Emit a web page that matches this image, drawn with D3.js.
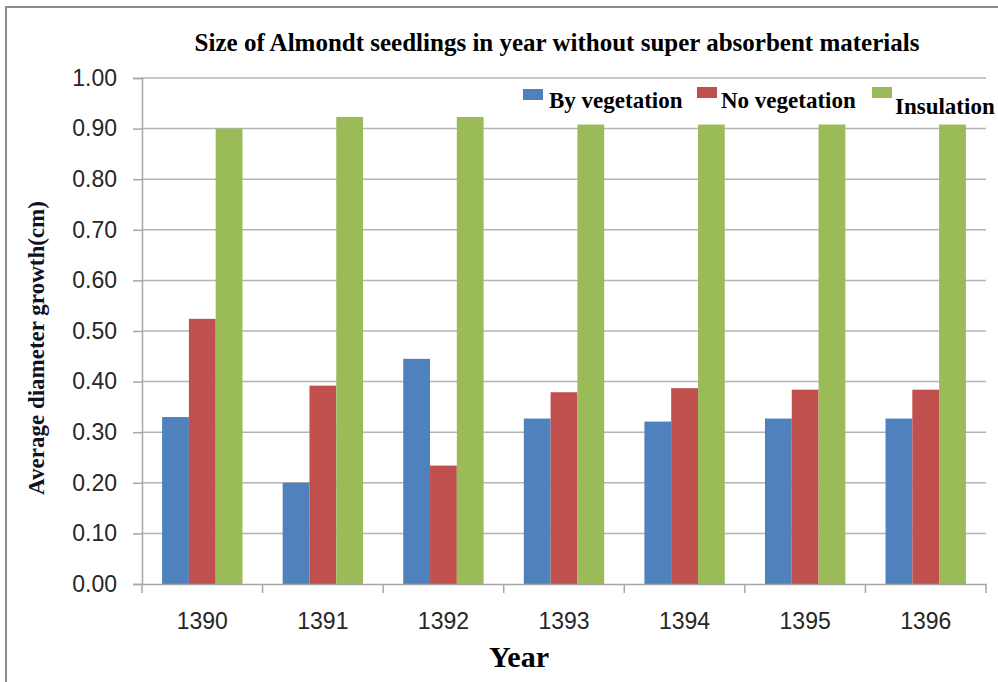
<html>
  <head>
    <title> Almond seedlings </title>
    <style>
      body { margin: 0; background: #fff; }
    </style>
  </head>
  <body>
  <script src="https://cdn.jsdelivr.net/npm/d3@7"></script>

    <script>
    var w = 998;
    var h = 682;

    // data
    var years = ['1390', '1391', '1392', '1393', '1394', '1395', '1396'];
    var seriesNames = ['By vegetation', 'No vegetation', 'Insulation'];
    var byVegetation = [0.33, 0.20, 0.445, 0.327, 0.321, 0.327, 0.327];
    var noVegetation = [0.524, 0.392, 0.234, 0.379, 0.387, 0.384, 0.384];
    var insulation = [0.90, 0.923, 0.923, 0.908, 0.908, 0.908, 0.908];
    var yTicks = [0, 0.1, 0.2, 0.3, 0.4, 0.5, 0.6, 0.7, 0.8, 0.9, 1.0];
    var colors = ['#4f81bd', '#c0504d', '#9bbb59'];

    var allSeries = [byVegetation, noVegetation, insulation];
    var rows = years.map(function(y, i) {
      return { year: y, values: allSeries.map(function(s, j) { return { key: seriesNames[j], value: s[i], idx: j }; }) };
    });

    var plotLeft = 142, plotRight = 986, plotTop = 78, plotBottom = 584;

    var svg = d3.select('body')
                .append('svg')
                .attr('width', w)
                .attr('height', h);

    // outer frame (only top and left edge are visible)
    svg.append('rect')
       .attr('x', 6).attr('y', 7)
       .attr('width', w + 20).attr('height', h + 20)
       .attr('fill', 'none')
       .attr('stroke', '#8c8c8c')
       .attr('stroke-width', 2);

    var x0 = d3.scaleBand().domain(years).range([plotLeft, plotRight]).paddingInner(0).paddingOuter(0);
    var x1 = d3.scaleBand().domain(seriesNames).range([0, x0.bandwidth()]).paddingInner(0).paddingOuter(0.75);
    var y = d3.scaleLinear().domain([0, 1]).range([plotBottom, plotTop]);

    // gridlines
    svg.append('g')
       .selectAll('line')
       .data(yTicks.slice(1))
       .enter()
       .append('line')
       .attr('x1', plotLeft).attr('x2', plotRight)
       .attr('y1', d => y(d)).attr('y2', d => y(d))
       .attr('stroke', '#b4b4b4')
       .attr('stroke-width', 1.5);

    // y axis
    var yAxis = svg.append('g')
       .attr('transform', 'translate(' + plotLeft + ',0)')
       .call(d3.axisLeft(y).tickValues(yTicks).tickFormat(d3.format('.2f')).tickSize(9).tickPadding(16));
    yAxis.select('.domain').attr('stroke', '#a6a6a6').attr('stroke-width', 1.5);
    yAxis.selectAll('.tick line').attr('stroke', '#a6a6a6').attr('stroke-width', 1.5);
    yAxis.selectAll('text')
         .attr('font-family', 'Liberation Sans, sans-serif')
         .attr('font-size', 23)
         .attr('fill', '#262626');

    // bars
    var groups = svg.append('g')
       .selectAll('g')
       .data(rows)
       .enter()
       .append('g')
       .attr('transform', d => 'translate(' + x0(d.year) + ',0)');

    groups.selectAll('rect')
       .data(d => d.values)
       .enter()
       .append('rect')
       .attr('x', d => x1(d.key))
       .attr('width', x1.bandwidth())
       .attr('y', d => y(d.value))
       .attr('height', d => y(0) - y(d.value))
       .attr('fill', d => colors[d.idx]);

    // x axis
    var xAxis = svg.append('g')
       .attr('transform', 'translate(0,' + plotBottom + ')')
       .call(d3.axisBottom(x0).tickSize(0).tickPadding(29));
    xAxis.select('.domain').attr('stroke', '#a6a6a6').attr('stroke-width', 1.5);
    xAxis.selectAll('text')
         .attr('font-family', 'Liberation Sans, sans-serif')
         .attr('font-size', 23)
         .attr('fill', '#262626');
    // boundary ticks between categories
    xAxis.selectAll('.sep')
         .data(years.concat(['end']))
         .enter()
         .append('line')
         .attr('x1', (d, i) => plotLeft + i * x0.step())
         .attr('x2', (d, i) => plotLeft + i * x0.step())
         .attr('y1', 0).attr('y2', 9)
         .attr('stroke', '#a6a6a6')
         .attr('stroke-width', 1.5);

    // title
    svg.append('text')
       .attr('x', 557).attr('y', 51)
       .attr('text-anchor', 'middle')
       .attr('font-family', 'Liberation Serif, serif')
       .attr('font-weight', 'bold')
       .attr('font-size', 25)
       .text('Size of Almondt seedlings in year without super absorbent materials');

    // axis titles
    svg.append('text')
       .attr('x', 519).attr('y', 667)
       .attr('text-anchor', 'middle')
       .attr('font-family', 'Liberation Serif, serif')
       .attr('font-weight', 'bold')
       .attr('font-size', 30)
       .text('Year');

    svg.append('text')
       .attr('transform', 'translate(44,348) rotate(-90)')
       .attr('text-anchor', 'middle')
       .attr('font-family', 'Liberation Serif, serif')
       .attr('font-weight', 'bold')
       .attr('font-size', 23)
       .attr('fill', '#111122')
       .text('Average diameter growth(cm)');

    // legend
    var legendPos = [
      { sx: 523, sy: 89, tx: 549, ty: 108 },
      { sx: 697, sy: 87, tx: 721, ty: 108 },
      { sx: 872, sy: 87, tx: 895, ty: 114 }
    ];
    var legend = svg.append('g')
       .selectAll('g')
       .data(seriesNames)
       .enter()
       .append('g');
    legend.append('rect')
       .attr('x', (d, i) => legendPos[i].sx)
       .attr('y', (d, i) => legendPos[i].sy)
       .attr('width', 20).attr('height', 11)
       .attr('fill', (d, i) => colors[i]);
    legend.append('text')
       .attr('x', (d, i) => legendPos[i].tx)
       .attr('y', (d, i) => legendPos[i].ty)
       .attr('font-family', 'Liberation Serif, serif')
       .attr('font-weight', 'bold')
       .attr('font-size', 23)
       .text(d => d);
      </script>
    </body>
</html>
